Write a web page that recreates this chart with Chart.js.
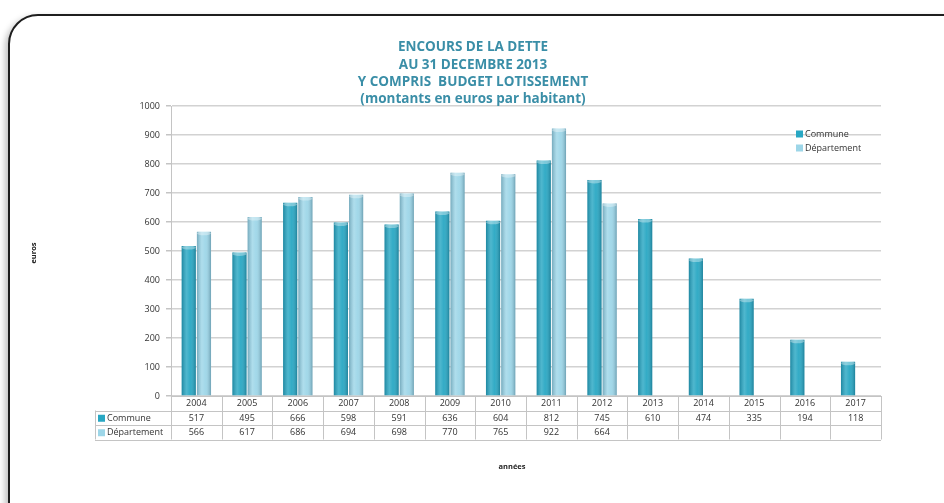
<!DOCTYPE html>
<html>
<head>
<meta charset="utf-8">
<script src="https://cdn.jsdelivr.net/npm/chart.js@4.4.1/dist/chart.umd.min.js"></script>
<style>
  body { margin: 0; background: #fff; overflow: hidden; }
  #wrap { position: relative; width: 944px; height: 503px; }
  #frame {
    position: absolute; left: 8px; top: 14px; width: 960px; height: 520px;
    border: 2px solid #1e1e1e; border-radius: 30px; background: #fff;
    box-shadow: -3px 3px 6px rgba(0,0,0,0.25);
  }
  #myChart { position: absolute; left: 0; top: 0; }
</style>
</head>
<body>
<div id="wrap">
  <div id="frame"></div>
  <canvas id="myChart" width="944" height="503"></canvas>
</div>
<script>
// years shown along the bottom of the chart
const years = ["2004","2005","2006","2007","2008","2009","2010","2011","2012","2013","2014","2015","2016","2017"];
// debt per inhabitant, euros
const commune = [517, 495, 666, 598, 591, 636, 604, 812, 745, 610, 474, 335, 194, 118];
const departement = [566, 617, 686, 694, 698, 770, 765, 922, 664, null, null, null, null, null];
const yTicks = [0, 100, 200, 300, 400, 500, 600, 700, 800, 900, 1000];

const titleLines = ["ENCOURS DE LA DETTE", "AU 31 DECEMBRE 2013", "Y COMPRIS  BUDGET LOTISSEMENT", "(montants en euros par habitant)"];

const communeColor = "#28a7c3";
const deptColor = "#9dd6e8";
const fontFam = "'Open Sans', 'DejaVu Sans', sans-serif";

// draws the title, legend, axis titles and the data table under the axis
const extras = {
  id: "extras",
  afterDatasetsDraw(chart) {
    const ctx = chart.ctx;
    // cylinder look on top of each bar
    chart.data.datasets.forEach((ds, di) => {
      const meta = chart.getDatasetMeta(di);
      meta.data.forEach((bar, i) => {
        if (ds.data[i] == null) return;
        const p = bar.getProps(["x", "y", "base", "width"], true);
        const l = p.x - p.width / 2, r = p.x + p.width / 2;
        const g = ctx.createLinearGradient(l, 0, r, 0);
        g.addColorStop(0, "rgba(0,40,60,0.25)");
        g.addColorStop(0.35, "rgba(255,255,255,0.18)");
        g.addColorStop(0.6, "rgba(255,255,255,0.05)");
        g.addColorStop(1, "rgba(0,40,60,0.3)");
        ctx.save();
        ctx.fillStyle = g;
        ctx.fillRect(l, p.y, p.width, p.base - p.y);
        // top cap
        ctx.fillStyle = "rgba(255,255,255,0.35)";
        ctx.beginPath();
        ctx.ellipse(p.x, p.y + 1.5, p.width / 2, 2, 0, 0, Math.PI * 2);
        ctx.fill();
        ctx.restore();
      });
    });
  },
  afterDraw(chart) {
    const ctx = chart.ctx;
    const area = chart.chartArea;
    const xs = chart.scales.x;
    ctx.save();

    // title
    ctx.fillStyle = "#3a8ea7";
    ctx.font = "bold 13.5px " + fontFam;
    ctx.textAlign = "center";
    ctx.textBaseline = "middle";
    titleLines.forEach((t, i) => ctx.fillText(t, 473, 47.5 + i * 17.2));

    // axis titles
    ctx.fillStyle = "#222";
    ctx.font = "bold 7.5px " + fontFam;
    ctx.fillText("années", 512, 467);
    ctx.save();
    ctx.translate(34, 253);
    ctx.rotate(-Math.PI / 2);
    ctx.fillText("euros", 0, 0);
    ctx.restore();

    // legend
    ctx.font = "9px " + fontFam;
    ctx.textAlign = "left";
    [["Commune", communeColor], ["Département", deptColor]].forEach((it, i) => {
      const y = 134 + i * 14;
      ctx.fillStyle = it[1];
      ctx.fillRect(796, y - 3.5, 7, 7);
      ctx.fillStyle = "#333";
      ctx.fillText(it[0], 805, y);
    });

    // data table
    const rowH = 14.5;
    const top = area.bottom;
    const left = area.left, right = area.right;
    const colW = (right - left) / years.length;
    const headL = 95;
    ctx.strokeStyle = "#c4c4c4";
    ctx.lineWidth = 1;
    ctx.beginPath();
    for (let r = 0; r <= 3; r++) {
      const y = Math.round(top + r * rowH) + 0.5;
      ctx.moveTo(r >= 1 ? headL : left, y);
      ctx.lineTo(right, y);
    }
    for (let c = 0; c <= years.length; c++) {
      const x = Math.round(left + c * colW) + 0.5;
      ctx.moveTo(x, top);
      ctx.lineTo(x, top + 3 * rowH);
    }
    ctx.moveTo(headL + 0.5, top + rowH);
    ctx.lineTo(headL + 0.5, top + 3 * rowH);
    ctx.stroke();

    ctx.font = "9px " + fontFam;
    ctx.fillStyle = "#333";
    ctx.textAlign = "center";
    years.forEach((yr, i) => {
      const cx = xs.getPixelForValue(i);
      ctx.fillText(yr, cx, top + rowH * 0.5 + 0.5);
      if (commune[i] != null) ctx.fillText(commune[i], cx, top + rowH * 1.5 + 0.5);
      if (departement[i] != null) ctx.fillText(departement[i], cx, top + rowH * 2.5 + 0.5);
    });
    ctx.textAlign = "left";
    [["Commune", communeColor], ["Département", deptColor]].forEach((it, i) => {
      const y = top + rowH * (1.5 + i) + 0.5;
      ctx.fillStyle = it[1];
      ctx.fillRect(98, y - 3.5, 7, 7);
      ctx.fillStyle = "#333";
      ctx.fillText(it[0], 107, y);
    });
    ctx.restore();
  }
};

const myChart = document.getElementById("myChart");

let barChart = new Chart(myChart, {
  type: "bar",
  data: {
    labels: years,
    datasets: [
      {
        label: "Commune",
        data: commune,
        backgroundColor: communeColor,
        borderWidth: 0
      },
      {
        label: "Département",
        data: departement,
        backgroundColor: deptColor,
        borderWidth: 0
      }
    ]
  },
  options: {
    responsive: false,
    animation: false,
    layout: { padding: { left: 111, right: 63, top: 106, bottom: 107 } },
    plugins: {
      legend: { display: false },
      tooltip: { enabled: false }
    },
    datasets: {
      bar: { categoryPercentage: 0.6, barPercentage: 0.93 }
    },
    scales: {
      x: {
        display: false
      },
      y: {
        min: 0,
        max: 1000,
        afterFit: s => { s.width = 60; },
        afterBuildTicks: s => { s.ticks = yTicks.map(v => ({ value: v })); },
        border: { color: "#c4c4c4", width: 1 },
        grid: { color: "#d2d2d2", lineWidth: 1.5, tickLength: 5, tickColor: "#c4c4c4" },
        ticks: { font: { family: fontFam, size: 9 }, color: "#333", padding: 6, callback: v => String(v) }
      }
    }
  },
  plugins: [extras]
});
</script>
</body>
</html>
